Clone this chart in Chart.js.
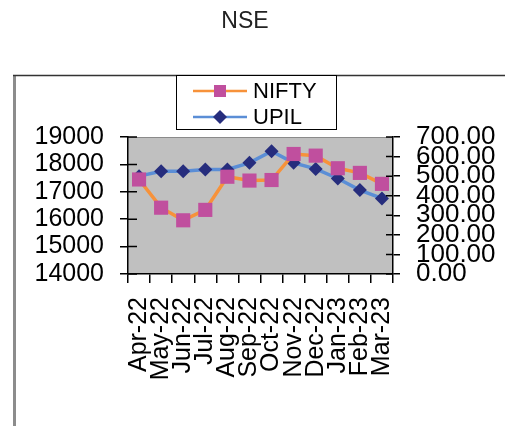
<!DOCTYPE html>
<html>
<head>
<meta charset="utf-8">
<script src="https://cdn.jsdelivr.net/npm/chart.js@4.4.1/dist/chart.umd.min.js"></script>
<style>
  body { margin: 0; background: #fff; }
  #wrap { width: 505px; height: 426px; position: relative; }
</style>
</head>
<body>
<div id="wrap"><canvas id="chart"></canvas></div>
<script>
const months = ['Apr-22', 'May-22', 'Jun-22', 'Jul-22', 'Aug-22', 'Sep-22',
    'Oct-22', 'Nov-22', 'Dec-22', 'Jan-23', 'Feb-23', 'Mar-23'];
const nifty = [17450, 16420, 15960, 16340, 17550, 17410, 17430, 18380, 18320, 17860, 17690, 17290];
const upil = [500, 525, 525, 534, 534, 568, 627, 568, 537, 488, 429, 386];
const chartTitle = 'NSE';

const FONT = 'Liberation Sans, Arial, sans-serif';

// frame, grey plot area and the cross ticks
const backdrop = {
    id: 'backdrop',
    beforeDraw(chart) {
        const { ctx, chartArea: a } = chart;
        ctx.save();
        ctx.fillStyle = '#c0c0c0';
        ctx.fillRect(a.left, a.top, a.right - a.left, a.bottom - a.top);
        ctx.strokeStyle = '#8a8a8a';
        ctx.lineWidth = 1;
        ctx.beginPath();
        ctx.moveTo(a.left, a.top + 0.5);
        ctx.lineTo(a.right, a.top + 0.5);
        ctx.stroke();
        ctx.restore();
    },
    afterDraw(chart) {
        const { ctx, chartArea: a, scales } = chart;
        ctx.save();
        // inward half of the axis ticks
        ctx.strokeStyle = '#000';
        ctx.lineWidth = 1.5;
        ctx.beginPath();
        scales.y.ticks.forEach(t => {
            const y = scales.y.getPixelForValue(t.value);
            ctx.moveTo(a.left, y);
            ctx.lineTo(a.left + 9, y);
        });
        scales.y2.ticks.forEach(t => {
            const y = scales.y2.getPixelForValue(t.value);
            ctx.moveTo(a.right, y);
            ctx.lineTo(a.right - 7, y);
        });
        ctx.stroke();

        // outer frame
        ctx.strokeStyle = '#8c8c8c';
        ctx.lineWidth = 3;
        ctx.beginPath();
        ctx.moveTo(14.5, 75);
        ctx.lineTo(14.5, 426);
        ctx.stroke();
        ctx.strokeStyle = '#333';
        ctx.lineWidth = 1.5;
        ctx.beginPath();
        ctx.moveTo(13, 75.5);
        ctx.lineTo(505, 75.5);
        ctx.stroke();

        // title
        ctx.fillStyle = '#222';
        ctx.font = '23px ' + FONT;
        ctx.textAlign = 'center';
        ctx.textBaseline = 'middle';
        ctx.fillText(chartTitle, 245, 22);

        // legend box
        ctx.fillStyle = '#fff';
        ctx.fillRect(176, 75.5, 160, 54);
        ctx.strokeStyle = '#000';
        ctx.lineWidth = 1;
        ctx.strokeRect(176.5, 75.5, 160, 54);

        chart.data.datasets.forEach((ds, i) => {
            const y = 91 + i * 26;
            ctx.strokeStyle = ds.borderColor;
            ctx.lineWidth = 2.5;
            ctx.beginPath();
            ctx.moveTo(193, y);
            ctx.lineTo(247, y);
            ctx.stroke();
            ctx.fillStyle = ds.pointBackgroundColor;
            ctx.beginPath();
            if (ds.pointStyle === 'rect') {
                ctx.rect(214, y - 6, 12, 12);
            } else {
                ctx.moveTo(220, y - 7);
                ctx.lineTo(227, y);
                ctx.lineTo(220, y + 7);
                ctx.lineTo(213, y);
                ctx.closePath();
            }
            ctx.fill();
            ctx.fillStyle = '#000';
            ctx.font = '22px ' + FONT;
            ctx.textAlign = 'left';
            ctx.fillText(ds.label, 253, y + 1);
        });
        ctx.restore();
    }
};

new Chart(document.getElementById('chart'), {
    type: 'line',
    data: {
        labels: months,
        datasets: [{
            label: 'NIFTY',
            data: nifty,
            yAxisID: 'y',
            borderColor: '#f7923a',
            borderWidth: 3.5,
            pointStyle: 'rect',
            pointRadius: 10,
            pointBackgroundColor: '#c04f9e',
            pointBorderColor: '#c04f9e',
            pointBorderWidth: 0,
            tension: 0
        }, {
            label: 'UPIL',
            data: upil,
            yAxisID: 'y2',
            borderColor: '#5b8ed6',
            borderWidth: 3.5,
            pointStyle: 'rectRot',
            pointRadius: 7,
            pointBackgroundColor: '#262d7d',
            pointBorderColor: '#262d7d',
            pointBorderWidth: 0,
            tension: 0
        }]
    },
    options: {
        responsive: true,
        maintainAspectRatio: false,
        animation: false,
        layout: { padding: { top: 137, left: 0, right: 0, bottom: 0 } },
        plugins: {
            legend: { display: false },
            title: { display: false },
            tooltip: { enabled: false }
        },
        scales: {
            x: {
                offset: true,
                afterFit(s) { s.height = 152; },
                ticks: {
                    autoSkip: false,
                    minRotation: 90,
                    maxRotation: 90,
                    padding: 14,
                    color: '#000',
                    font: { family: FONT, size: 25 }
                },
                grid: {
                    offset: true,
                    drawOnChartArea: false,
                    tickLength: 9,
                    color: '#000',
                    lineWidth: 1.5
                },
                border: { color: '#000', width: 1.5 }
            },
            y: {
                position: 'left',
                min: 14000,
                max: 19000,
                afterFit(s) { s.width = 128; },
                ticks: {
                    stepSize: 1000,
                    autoSkip: false,
                    padding: 16,
                    color: '#000',
                    font: { family: FONT, size: 25 },
                    callback: v => String(v)
                },
                grid: {
                    drawOnChartArea: false,
                    tickLength: 8,
                    color: '#000',
                    lineWidth: 1.5
                },
                border: { color: '#000', width: 1.5 }
            },
            y2: {
                position: 'right',
                min: 0,
                max: 700,
                afterFit(s) { s.width = 112; },
                ticks: {
                    stepSize: 100,
                    autoSkip: false,
                    padding: 16,
                    color: '#000',
                    font: { family: FONT, size: 26 },
                    callback: v => v.toFixed(2)
                },
                grid: {
                    drawOnChartArea: false,
                    tickLength: 7,
                    color: '#000',
                    lineWidth: 1.5
                },
                border: { color: '#000', width: 1.5 }
            }
        }
    },
    plugins: [backdrop]
});
</script>
</body>
</html>
